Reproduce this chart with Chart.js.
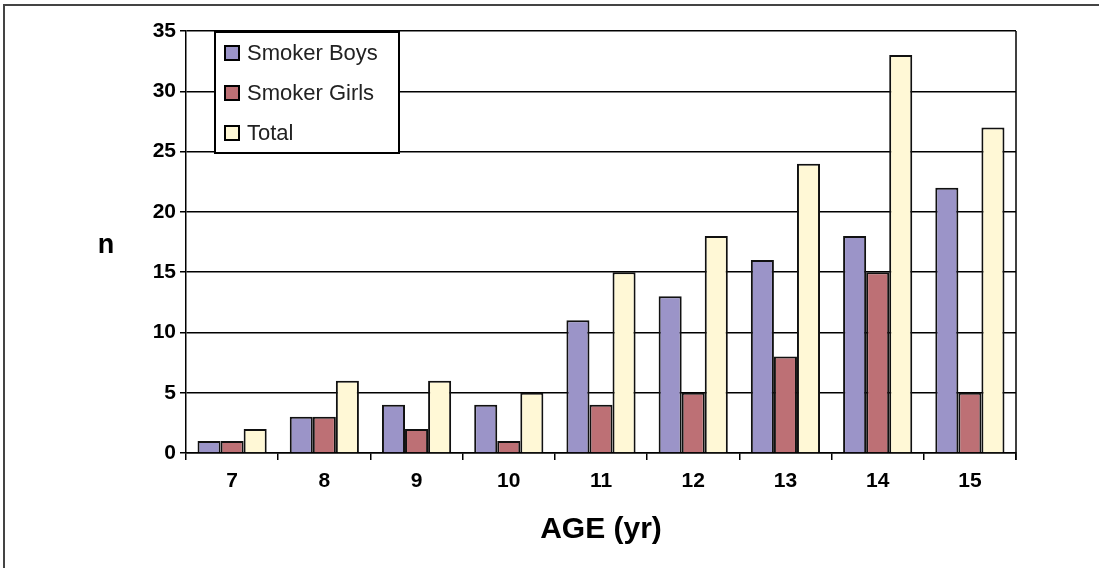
<!DOCTYPE html>
<html>
<head>
<meta charset="utf-8">
<script src="https://cdn.jsdelivr.net/npm/chart.js@4.4.1/dist/chart.umd.min.js"></script>
<style>
  html, body { margin: 0; padding: 0; background: #fff; }
  #wrap { position: relative; width: 1099px; height: 568px; overflow: hidden; }
  #frame { position: absolute; left: 3px; top: 4px; right: -10px; bottom: -10px;
           border-left: 2px solid #444; border-top: 2px solid #444; }
  canvas { position: absolute; left: 0; top: 0; }
</style>
</head>
<body>
<div id="wrap">
  <div id="frame"></div>
  <canvas id="chart" width="1099" height="568"></canvas>
</div>
<script>
const ages = ['7', '8', '9', '10', '11', '12', '13', '14', '15'];
const smokerBoys = [1, 3, 4, 4, 11, 13, 16, 18, 22];
const smokerGirls = [1, 3, 2, 1, 4, 5, 8, 15, 5];
const total = [2, 6, 6, 5, 15, 18, 24, 33, 27];

const FONT = '"Liberation Sans", Arial, sans-serif';

// legend box drawn inside plot, plus "n" label and right border
const extras = {
  id: 'extras',
  afterDraw(chart) {
    const { ctx, chartArea: a } = chart;
    ctx.save();
    // right edge of plot
    ctx.strokeStyle = '#000';
    ctx.lineWidth = 1.5;
    ctx.beginPath();
    ctx.moveTo(a.right, a.top);
    ctx.lineTo(a.right, a.bottom + 7);
    ctx.stroke();

    // y title, horizontal
    ctx.fillStyle = '#000';
    ctx.font = 'bold 27px ' + FONT;
    ctx.textAlign = 'center';
    ctx.textBaseline = 'middle';
    ctx.fillText('n', 106, (a.top + a.bottom) / 2 + 4);

    // legend
    const lx = a.left + 29, ly = a.top + 1, lw = 184, lh = 121;
    ctx.fillStyle = '#fff';
    ctx.fillRect(lx, ly, lw, lh);
    ctx.lineWidth = 2;
    ctx.strokeRect(lx, ly, lw, lh);
    ctx.font = '22px ' + FONT;
    ctx.textAlign = 'left';
    chart.data.datasets.forEach((ds, i) => {
      const cy = ly + 21 + i * 40;
      ctx.fillStyle = ds.backgroundColor;
      ctx.fillRect(lx + 10, cy - 7, 14, 14);
      ctx.lineWidth = 2;
      ctx.strokeStyle = '#000';
      ctx.strokeRect(lx + 10, cy - 7, 14, 14);
      ctx.fillStyle = '#222';
      ctx.fillText(ds.label, lx + 32, cy + 1);
    });
    ctx.restore();
  }
};

new Chart(document.getElementById('chart'), {
  type: 'bar',
  data: {
    labels: ages,
    datasets: [
      { label: 'Smoker Boys', data: smokerBoys, backgroundColor: '#9b94c8' },
      { label: 'Smoker Girls', data: smokerGirls, backgroundColor: '#bd7075' },
      { label: 'Total', data: total, backgroundColor: '#fff8d6' }
    ].map(d => Object.assign(d, { borderColor: '#111', borderWidth: 2, barPercentage: 1, categoryPercentage: 0.75 }))
  },
  options: {
    responsive: false,
    animation: false,
    devicePixelRatio: 1,
    layout: { padding: { top: 31, right: 83, left: 0, bottom: 0 } },
    plugins: { legend: { display: false }, tooltip: { enabled: false } },
    scales: {
      x: {
        offset: true,
        grid: { display: true, drawOnChartArea: false, offset: true, tickLength: 7, color: '#000', lineWidth: 1.5 },
        border: { color: '#000', width: 1.5 },
        ticks: { color: '#000', padding: 9, font: { family: FONT, size: 21, weight: 'bold' } },
        title: { display: true, text: 'AGE (yr)', color: '#000', font: { family: FONT, size: 30, weight: 'bold' }, padding: { top: 0, bottom: 20 } },
        afterFit: s => { s.height = 115; }
      },
      y: {
        min: 0,
        max: 35,
        ticks: { stepSize: 5, color: '#000', padding: 4, font: { family: FONT, size: 21, weight: 'bold' } },
        grid: { color: '#000', lineWidth: 1.5, tickLength: 6 },
        border: { color: '#000', width: 1.5 },
        afterFit: s => { s.width = 186; }
      }
    }
  },
  plugins: [extras]
});
</script>
</body>
</html>
